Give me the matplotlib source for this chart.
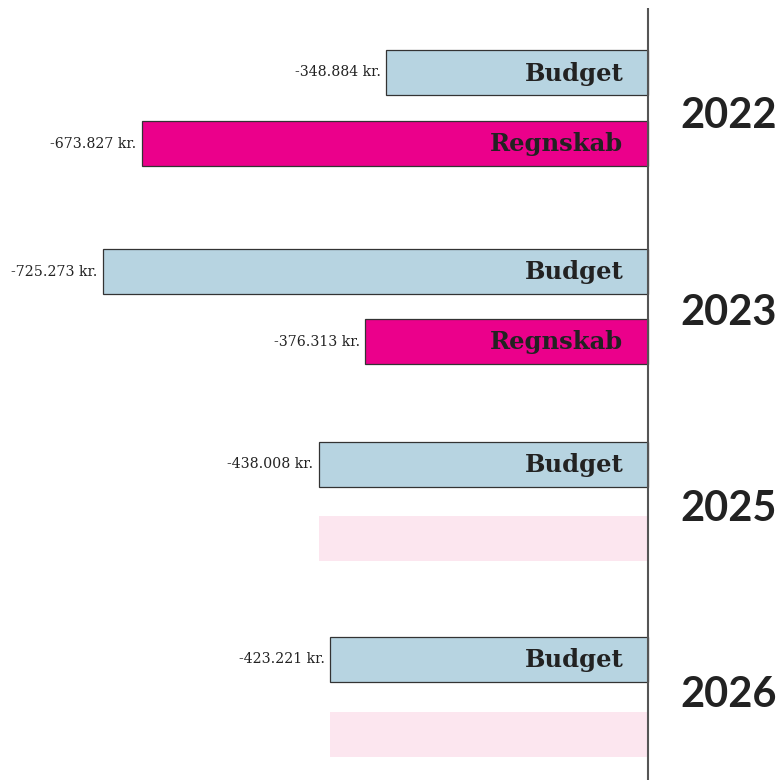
import matplotlib.pyplot as plt

years = ["2022", "2023", "2025", "2026"]
budget = [-348884, -725273, -438008, -423221]
regnskab = [-673827, -376313, None, None]

budget_color = "#b7d4e1"
regnskab_color = "#eb008b"
empty_color = "#fce6ef"

def fmt(v):
    return "-" + f"{abs(v):,}".replace(",", ".") + " kr."

fig = plt.figure(figsize=(7.82, 7.80), dpi=100)
ax = fig.add_axes([0, 0, 1, 1])
ax.set_xlim(-862360, 178320)
ax.set_ylim(780, 0)
ax.axis("off")

# rows in pixel units (top = 0)
budget_y = [72.5, 271.5, 464, 659]
regn_y = [143.5, 341.5, 538, 734.5]
year_y = [116, 313, 509, 695]
bar_h = 45

for i, yr in enumerate(years):
    yb = budget_y[i]
    yr_ = regn_y[i]
    ax.barh(yb, budget[i], height=bar_h, color=budget_color, edgecolor="#333333", linewidth=0.9)
    ax.text(budget[i] - 7000, yb, fmt(budget[i]), ha="right", va="center",
            fontsize=10.2, family="DejaVu Serif", color="#222222")
    ax.text(-33000, yb + 1, "Budget", ha="right", va="center", fontsize=17.5,
            fontweight="bold", family="DejaVu Serif", color="#222222")
    if regnskab[i] is not None:
        ax.barh(yr_, regnskab[i], height=bar_h, color=regnskab_color, edgecolor="#333333", linewidth=0.9)
        ax.text(regnskab[i] - 7000, yr_, fmt(regnskab[i]), ha="right", va="center",
                fontsize=10.2, family="DejaVu Serif", color="#222222")
        ax.text(-33000, yr_ + 1, "Regnskab", ha="right", va="center", fontsize=17.5,
                fontweight="bold", family="DejaVu Serif", color="#222222")
    else:
        ax.barh(yr_, budget[i], height=bar_h, color=empty_color, linewidth=0)
    ax.text(171000, year_y[i], yr, ha="right", va="center", fontsize=30,
            fontweight="bold", family="Lato", color="#222222")

ax.plot([0, 0], [8, 780], color="#555555", linewidth=1.5, solid_capstyle="butt")

fig.savefig("out.png", dpi=100)
